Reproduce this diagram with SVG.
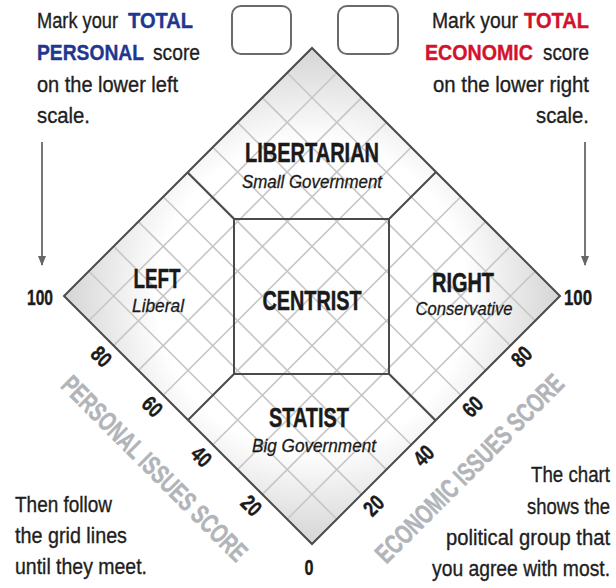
<svg xmlns="http://www.w3.org/2000/svg" width="616" height="588" viewBox="0 0 616 588">
  <style>
    .t { font-family: "Liberation Sans Narrow", "Liberation Sans", Arial, sans-serif; font-size: 22px; fill: #1e1e1e; stroke: #1e1e1e; stroke-width: 0.35px; }
    .blue { fill: #1f3790; stroke: #1f3790; font-weight: bold; }
    .red { fill: #d3122c; stroke: #d3122c; font-weight: bold; }
    .head { font-family: "Liberation Sans Narrow", "Liberation Sans", Arial, sans-serif; font-size: 28px; font-weight: bold; fill: #1a1a1a; stroke: #1a1a1a; stroke-width: 0.5px; text-anchor: middle; }
    .sub { font-family: "Liberation Sans Narrow", "Liberation Sans", Arial, sans-serif; font-size: 19px; font-style: italic; fill: #1a1a1a; stroke: #1a1a1a; stroke-width: 0.3px; text-anchor: middle; }
    .num { font-family: "Liberation Sans Narrow", "Liberation Sans", Arial, sans-serif; font-size: 22px; font-weight: bold; fill: #1a1a1a; stroke: #1a1a1a; stroke-width: 0.4px; text-anchor: middle; }
    .axis { font-family: "Liberation Sans Narrow", "Liberation Sans", Arial, sans-serif; font-size: 27px; font-weight: bold; fill: #b1b4b8; stroke: #b1b4b8; stroke-width: 0.5px; text-anchor: middle; }
    .grid line { stroke: #c6c6c6; stroke-width: 1.6; }
    .border { stroke: #4a4a4a; stroke-width: 2; fill: none; }
    .box { fill: #fff; stroke: #6a6a6a; stroke-width: 2; }
    .arrow { stroke: #777; stroke-width: 2; marker-end: url(#ah); }
  </style>
  <defs>
    <radialGradient id="bg" gradientUnits="userSpaceOnUse" cx="312" cy="296" r="250">
      <stop offset="0" stop-color="#ffffff"/>
      <stop offset="0.62" stop-color="#ffffff"/>
      <stop offset="1" stop-color="#d4d4d4"/>
    </radialGradient>
    <marker id="ah" viewBox="0 0 10 8" refX="9" refY="4" markerWidth="10" markerHeight="8" orient="auto" markerUnits="userSpaceOnUse">
      <path d="M0,0 L10,4 L0,8 Z" fill="#666"/>
    </marker>
  </defs>

  <!-- Diamond background -->
  <g id="chart">
    <polygon points="312,48 560,296 312,544 64,296" fill="url(#bg)"/>
    <g class="grid">
      <line x1="287.2" y1="519.2" x2="535.2" y2="271.2"/>
      <line x1="262.4" y1="494.4" x2="510.4" y2="246.4"/>
      <line x1="237.6" y1="469.6" x2="485.6" y2="221.6"/>
      <line x1="212.8" y1="444.8" x2="460.8" y2="196.8"/>
      <line x1="188" y1="420" x2="436" y2="172"/>
      <line x1="163.2" y1="395.2" x2="411.2" y2="147.2"/>
      <line x1="138.4" y1="370.4" x2="386.4" y2="122.4"/>
      <line x1="113.6" y1="345.6" x2="361.6" y2="97.6"/>
      <line x1="88.8" y1="320.8" x2="336.8" y2="72.8"/>
      <line x1="336.8" y1="519.2" x2="88.8" y2="271.2"/>
      <line x1="361.6" y1="494.4" x2="113.6" y2="246.4"/>
      <line x1="386.4" y1="469.6" x2="138.4" y2="221.6"/>
      <line x1="411.2" y1="444.8" x2="163.2" y2="196.8"/>
      <line x1="436" y1="420" x2="188" y2="172"/>
      <line x1="460.8" y1="395.2" x2="212.8" y2="147.2"/>
      <line x1="485.6" y1="370.4" x2="237.6" y2="122.4"/>
      <line x1="510.4" y1="345.6" x2="262.4" y2="97.6"/>
      <line x1="535.2" y1="320.8" x2="287.2" y2="72.8"/>
    </g>
    <polygon class="border" points="312,48 560,296 312,544 64,296"/>
  </g>

  <!-- Region boundaries -->
  <g id="boundaries" class="border">
    <line x1="234" y1="219" x2="188" y2="173"/>
    <line x1="389" y1="219" x2="435.5" y2="172.5"/>
    <line x1="234" y1="374" x2="188" y2="420"/>
    <line x1="389" y1="374" x2="435.5" y2="420.5"/>
  </g>

  <g id="libertarian">
    <text class="head" x="312" y="162" textLength="134" lengthAdjust="spacingAndGlyphs">LIBERTARIAN</text>
    <text class="sub" x="312" y="188" textLength="140" lengthAdjust="spacingAndGlyphs">Small Government</text>
  </g>
  <g id="centrist">
    <rect class="border" x="234" y="219" width="155" height="155"/>
    <text class="head" x="312" y="310" textLength="99" lengthAdjust="spacingAndGlyphs">CENTRIST</text>
  </g>
  <g id="left">
    <text class="head" x="157" y="288" textLength="47" lengthAdjust="spacingAndGlyphs">LEFT</text>
    <text class="sub" x="158" y="312" textLength="52" lengthAdjust="spacingAndGlyphs">Liberal</text>
  </g>
  <g id="right">
    <text class="head" x="463" y="292" textLength="62" lengthAdjust="spacingAndGlyphs">RIGHT</text>
    <text class="sub" x="464" y="315" textLength="97" lengthAdjust="spacingAndGlyphs">Conservative</text>
  </g>
  <g id="statist">
    <text class="head" x="309" y="427" textLength="80" lengthAdjust="spacingAndGlyphs">STATIST</text>
    <text class="sub" x="314" y="452" textLength="124" lengthAdjust="spacingAndGlyphs">Big Government</text>
  </g>

  <!-- Score boxes -->
  <g id="personal-box"><rect class="box" x="232" y="6" width="59" height="48" rx="9"/></g>
  <g id="economic-box"><rect class="box" x="338" y="6" width="60" height="48" rx="9"/></g>

  <!-- Scale numbers -->
  <g id="scale-numbers">
    <text class="num" x="40" y="305" textLength="26" lengthAdjust="spacingAndGlyphs">100</text>
    <text class="num" x="578" y="305" textLength="28" lengthAdjust="spacingAndGlyphs">100</text>
    <text class="num" x="309" y="575" textLength="9" lengthAdjust="spacingAndGlyphs">0</text>
    <g transform="translate(101,357) rotate(45)"><text class="num" x="0" y="7" textLength="19" lengthAdjust="spacingAndGlyphs">80</text></g>
    <g transform="translate(152,407) rotate(45)"><text class="num" x="0" y="7" textLength="19" lengthAdjust="spacingAndGlyphs">60</text></g>
    <g transform="translate(201,457) rotate(45)"><text class="num" x="0" y="7" textLength="19" lengthAdjust="spacingAndGlyphs">40</text></g>
    <g transform="translate(251,506) rotate(45)"><text class="num" x="0" y="7" textLength="19" lengthAdjust="spacingAndGlyphs">20</text></g>
    <g transform="translate(522,357) rotate(-45)"><text class="num" x="0" y="7" textLength="19" lengthAdjust="spacingAndGlyphs">80</text></g>
    <g transform="translate(473,407) rotate(-45)"><text class="num" x="0" y="7" textLength="19" lengthAdjust="spacingAndGlyphs">60</text></g>
    <g transform="translate(424,456) rotate(-45)"><text class="num" x="0" y="7" textLength="19" lengthAdjust="spacingAndGlyphs">40</text></g>
    <g transform="translate(374,506) rotate(-45)"><text class="num" x="0" y="7" textLength="19" lengthAdjust="spacingAndGlyphs">20</text></g>
  </g>

  <!-- Axis titles -->
  <g id="axis-titles">
    <g transform="translate(155,468) rotate(45)"><text class="axis" x="0" y="10" textLength="250" lengthAdjust="spacingAndGlyphs">PERSONAL ISSUES SCORE</text></g>
    <g transform="translate(469,468) rotate(-45)"><text class="axis" x="0" y="10" textLength="254" lengthAdjust="spacingAndGlyphs">ECONOMIC ISSUES SCORE</text></g>
  </g>

  <!-- Instructions -->
  <g id="note-top-left" class="t">
    <text x="37" y="28" textLength="81" lengthAdjust="spacingAndGlyphs">Mark your</text>
    <text class="blue" x="128" y="28" textLength="65" lengthAdjust="spacingAndGlyphs">TOTAL</text>
    <text class="blue" x="37" y="60" textLength="107" lengthAdjust="spacingAndGlyphs">PERSONAL</text>
    <text x="153" y="60" textLength="47" lengthAdjust="spacingAndGlyphs">score</text>
    <text x="37" y="92" textLength="141" lengthAdjust="spacingAndGlyphs">on the lower left</text>
    <text x="37" y="123" textLength="53" lengthAdjust="spacingAndGlyphs">scale.</text>
  </g>
  <g id="note-top-right" class="t">
    <text x="432" y="28" textLength="86" lengthAdjust="spacingAndGlyphs">Mark your</text>
    <text class="red" x="524" y="28" textLength="65" lengthAdjust="spacingAndGlyphs">TOTAL</text>
    <text class="red" x="425" y="60" textLength="108" lengthAdjust="spacingAndGlyphs">ECONOMIC</text>
    <text x="543" y="60" textLength="46" lengthAdjust="spacingAndGlyphs">score</text>
    <text x="433" y="92" textLength="156" lengthAdjust="spacingAndGlyphs">on the lower right</text>
    <text x="536" y="123" textLength="53" lengthAdjust="spacingAndGlyphs">scale.</text>
  </g>
  <g id="note-bottom-left" class="t">
    <text x="15" y="512" textLength="97" lengthAdjust="spacingAndGlyphs">Then follow</text>
    <text x="15" y="543" textLength="112" lengthAdjust="spacingAndGlyphs">the grid lines</text>
    <text x="15" y="574" textLength="132" lengthAdjust="spacingAndGlyphs">until they meet.</text>
  </g>
  <g id="note-bottom-right" class="t">
    <text x="531" y="482" textLength="79" lengthAdjust="spacingAndGlyphs">The chart</text>
    <text x="527" y="514" textLength="83" lengthAdjust="spacingAndGlyphs">shows the</text>
    <text x="446" y="545" textLength="164" lengthAdjust="spacingAndGlyphs">political group that</text>
    <text x="432" y="576" textLength="178" lengthAdjust="spacingAndGlyphs">you agree with most.</text>
  </g>

  <!-- Arrows -->
  <g id="connectors">
    <line class="arrow" x1="42" y1="142" x2="42" y2="265"/>
    <line class="arrow" x1="585" y1="142" x2="585" y2="265"/>
  </g>
</svg>
